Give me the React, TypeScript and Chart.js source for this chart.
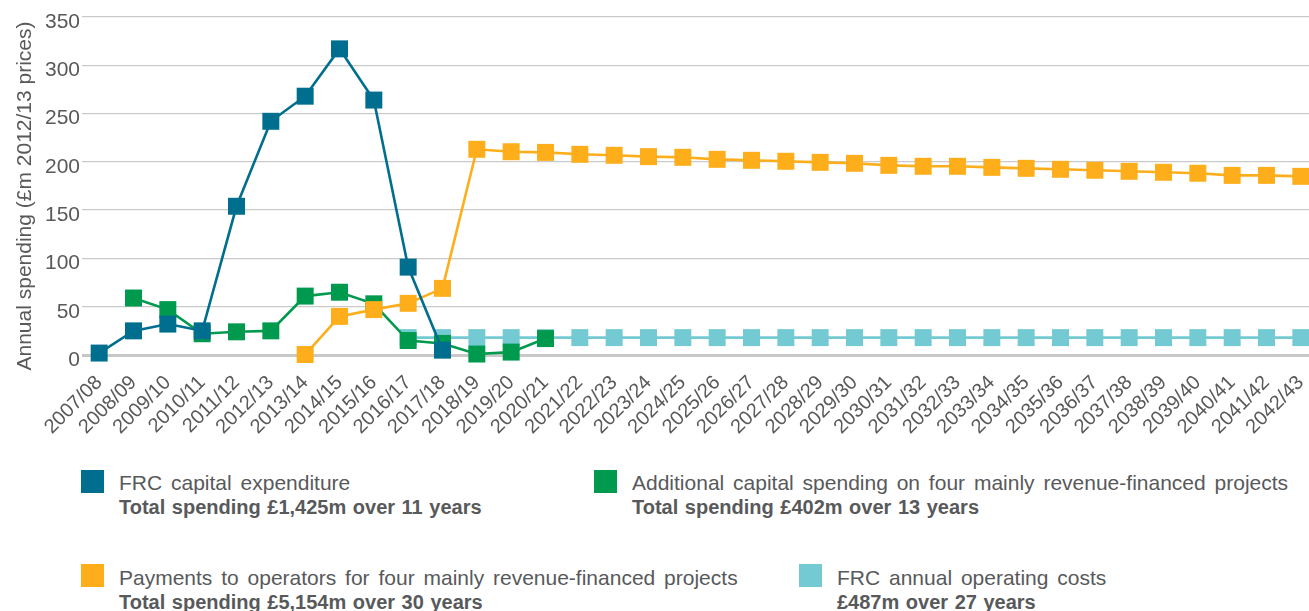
import React, { useEffect, useRef } from 'react';
import { Chart, registerables } from 'chart.js';

Chart.register(...registerables);

const categories = [
  '2007/08', '2008/09', '2009/10', '2010/11', '2011/12', '2012/13', '2013/14', '2014/15',
  '2015/16', '2016/17', '2017/18', '2018/19', '2019/20', '2020/21', '2021/22', '2022/23',
  '2023/24', '2024/25', '2025/26', '2026/27', '2027/28', '2028/29', '2029/30', '2030/31',
  '2031/32', '2032/33', '2033/34', '2034/35', '2035/36', '2036/37', '2037/38', '2038/39',
  '2039/40', '2040/41', '2041/42', '2042/43',
];

const frcCapital = [
  2, 25, 32, 25, 154, 242, 268, 317, 264, 91, 5,
  null, null, null, null, null, null, null, null, null, null, null, null, null,
  null, null, null, null, null, null, null, null, null, null, null, null,
];

const additionalCapital = [
  null, 59, 47, 22, 24, 25, 61, 65, 53, 15, 12, 1, 3, 17,
  null, null, null, null, null, null, null, null, null, null, null,
  null, null, null, null, null, null, null, null, null, null, null,
];

const operatorPayments = [
  null, null, null, null, null, null,
  0.5, 40, 47, 53.5, 69,
  213, 210.5, 209.8, 207.8, 206.8, 205.4, 204.7, 202.6, 201.6, 200.6, 199.5,
  198.5, 196.4, 195.4, 195.4, 194.3, 193.3, 192.3, 191.3, 190.2, 189.2, 188.2, 186, 186, 185,
];

const operatingCosts = [
  null, null, null, null, null, null, null, null, null,
  18, 18, 18, 18, 18, 18, 18, 18, 18, 18, 18, 18, 18, 18, 18,
  18, 18, 18, 18, 18, 18, 18, 18, 18, 18, 18, 18,
];

const yTicks = [0, 50, 100, 150, 200, 250, 300, 350];
const yTitle = 'Annual spending (£m 2012/13 prices)';

const seriesNames = [
  'FRC capital expenditure',
  'Additional capital spending on four mainly revenue-financed projects',
  'Payments to operators for four mainly revenue-financed projects',
  'FRC annual operating costs',
];
const seriesTotals = [
  'Total spending £1,425m over 11 years',
  'Total spending £402m over 13 years',
  'Total spending £5,154m over 30 years',
  '£487m over 27 years',
];
const seriesColors = ['#006e8e', '#009a4e', '#fdae1a', '#73cad2'];

const TEXT = '#58595b';
const FONT = '"Liberation Sans", Arial, sans-serif';

const yTitlePlugin = {
  id: 'yTitlePlugin',
  afterDraw(chart: any) {
    const ctx = chart.ctx;
    ctx.save();
    ctx.translate(30.5, 196);
    ctx.rotate(-Math.PI / 2);
    ctx.font = '21px ' + FONT;
    ctx.fillStyle = TEXT;
    ctx.textAlign = 'center';
    ctx.textBaseline = 'alphabetic';
    ctx.fillText(yTitle, 0, 0);
    ctx.restore();
  },
};

function makeDataset(label: string, data: (number | null)[], color: string) {
  return {
    label,
    data,
    borderColor: color,
    backgroundColor: color,
    borderWidth: 2.6,
    pointStyle: 'rect',
    pointRadius: 12,
    pointHoverRadius: 12,
    pointBorderWidth: 0,
    pointBackgroundColor: color,
    tension: 0,
    spanGaps: false,
    clip: false,
  };
}

export default function App() {
  const canvasRef = useRef<HTMLCanvasElement | null>(null);

  useEffect(() => {
    if (!canvasRef.current) return;
    const chart = new Chart(canvasRef.current, {
      type: 'line',
      data: {
        labels: categories,
        datasets: [
          makeDataset(seriesNames[0], frcCapital, seriesColors[0]),
          makeDataset(seriesNames[2], operatorPayments, seriesColors[2]),
          makeDataset(seriesNames[1], additionalCapital, seriesColors[1]),
          makeDataset(seriesNames[3], operatingCosts, seriesColors[3]),
        ] as any,
      },
      options: {
        animation: false,
        responsive: false,
        events: [],
        layout: { padding: { top: 17, left: 0, right: 0, bottom: 0 } },
        plugins: {
          legend: { display: false },
          tooltip: { enabled: false },
          title: { display: false },
        },
        scales: {
          x: {
            type: 'category',
            offset: true,
            grid: { display: false, drawTicks: false },
            border: { display: false },
            ticks: {
              autoSkip: false,
              minRotation: 45,
              maxRotation: 45,
              padding: 16,
              color: TEXT,
              font: { family: FONT, size: 20 },
            },
            afterFit: (axis: any) => {
              axis.height = 95;
              axis.paddingLeft = 0;
              axis.paddingRight = 0;
            },
          },
          y: {
            min: 0,
            max: 350,
            border: { display: false },
            grid: {
              drawTicks: false,
              color: (ctx: any) => (ctx.tick && ctx.tick.value === 0 ? '#c8c8c8' : '#cacaca'),
              lineWidth: (ctx: any) => (ctx.tick && ctx.tick.value === 0 ? 3 : 1.3),
            },
            afterBuildTicks: (axis: any) => {
              axis.ticks = yTicks.map((v) => ({ value: v }));
            },
            ticks: {
              padding: 2,
              labelOffset: 5,
              color: TEXT,
              font: { family: FONT, size: 21 },
            },
            afterFit: (axis: any) => {
              axis.width = 82;
            },
          },
        },
      } as any,
      plugins: [yTitlePlugin],
    });
    return () => chart.destroy();
  }, []);

  const legendPos = [
    { sx: 81, sy: 470, tx: 119, ty: 470 },
    { sx: 594, sy: 470, tx: 632, ty: 470 },
    { sx: 81, sy: 564, tx: 119, ty: 565 },
    { sx: 799, sy: 564, tx: 837, ty: 565 },
  ];

  return (
    <div
      style={{
        position: 'absolute',
        left: 0,
        top: 0,
        width: 1309,
        height: 611,
        overflow: 'hidden',
        background: '#ffffff',
        fontFamily: FONT,
      }}
    >
      <canvas
        ref={canvasRef}
        width={1330}
        height={450}
        style={{ position: 'absolute', left: 0, top: 0, display: 'block' }}
      />
      {legendPos.map((p, i) => (
        <React.Fragment key={i}>
          <div
            style={{
              position: 'absolute',
              left: p.sx,
              top: p.sy,
              width: 23,
              height: 23,
              background: seriesColors[i],
            }}
          />
          <div
            style={{
              position: 'absolute',
              left: p.tx,
              top: p.ty,
              color: TEXT,
              whiteSpace: 'nowrap',
            }}
          >
            <div style={{ fontSize: 21, lineHeight: '25px', wordSpacing: 3 }}>{seriesNames[i]}</div>
            <div style={{ fontSize: 20, lineHeight: '25px', fontWeight: 'bold', wordSpacing: 1 }}>
              {seriesTotals[i]}
            </div>
          </div>
        </React.Fragment>
      ))}
    </div>
  );
}
